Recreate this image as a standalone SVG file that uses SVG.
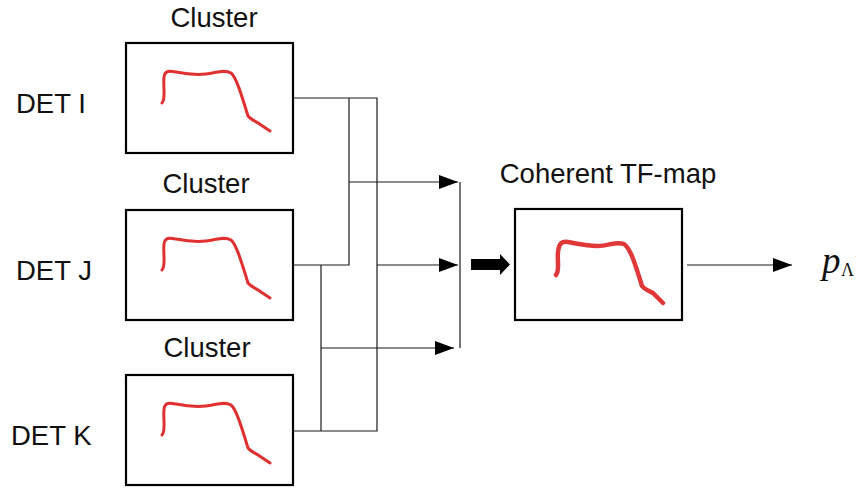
<svg xmlns="http://www.w3.org/2000/svg" width="860" height="489" viewBox="0 0 860 489">
<defs>
<style>
.box{fill:#fff;stroke:#000;stroke-width:2.2}
.lbl{font-family:"Liberation Sans",Arial,sans-serif;font-size:27.5px;fill:#111}
.curve{fill:none;stroke:#e03030;stroke-width:3;stroke-linecap:round;stroke-linejoin:round}
.curveBig{fill:none;stroke:#e03838;stroke-width:4.5;stroke-linecap:round;stroke-linejoin:round}
.wire{fill:none;stroke:#1a1a1a;stroke-width:1.2}
</style>
<marker id="ah" markerUnits="userSpaceOnUse" markerWidth="19" markerHeight="14" refX="19" refY="7" orient="auto">
<path d="M0,0 L19,7 L0,14 Z" fill="#000"/>
</marker>
<path id="sig" d="M36,60 C40,56 37,45 38,34 C39,27 44,28 50,29 C60,31 70,32 80,31 C90,30 98,26 105,30 C110,34 115,50 122,73 C125,77 130,78 135,82 L144,88"/>
</defs>
<rect width="860" height="489" fill="#fff"/>

<g id="nodeI">
<text class="lbl" x="214" y="27" text-anchor="middle">Cluster</text>
<rect class="box" x="126" y="43" width="167" height="110"/>
<use href="#sig" class="curve" x="126" y="43"/>
<text class="lbl" x="16" y="113">DET I</text>
</g>

<g id="nodeJ">
<text class="lbl" x="206" y="193" text-anchor="middle">Cluster</text>
<rect class="box" x="126" y="210" width="167" height="110"/>
<use href="#sig" class="curve" x="126" y="210"/>
<text class="lbl" x="16" y="280">DET J</text>
</g>

<g id="nodeK">
<text class="lbl" x="207" y="357" text-anchor="middle">Cluster</text>
<rect class="box" x="126" y="375" width="167" height="110"/>
<use href="#sig" class="curve" x="126" y="375"/>
<text class="lbl" x="11" y="445">DET K</text>
</g>

<g id="nodeMap">
<text class="lbl" x="608" y="183" text-anchor="middle">Coherent TF-map</text>
<rect class="box" x="515" y="209" width="167" height="111"/>
<path class="curveBig" d="M556,275 C560,270 557,262 558,252 C559,243 562,241 568,242 C578,244 588,246 598,246 C608,246 616,241 624,244 C630,248 634,260 642,286 C645,290 648,290 653,293 L663,303"/>
</g>

<g id="nodeOut">
<text x="822" y="273" font-family="'Liberation Serif','Times New Roman',serif" font-style="italic" font-size="37" fill="#111">p</text>
<text x="841" y="276" font-family="'Liberation Serif','Times New Roman',serif" font-size="18" fill="#111">Λ</text>
</g>

<g id="connectors">
<path class="wire" d="M293,98 H377 V431 H293"/>
<path class="wire" d="M349,98 V265 H293"/>
<path class="wire" d="M321,265 V431"/>
<path class="wire" d="M460,182 V348"/>
<path class="wire" d="M349,182 H458" marker-end="url(#ah)"/>
<path class="wire" d="M377,265 H458" marker-end="url(#ah)"/>
<path class="wire" d="M321,348 H454" marker-end="url(#ah)"/>
<polygon points="471,259 500,259 500,254 510,264.5 500,275 500,270 471,270" fill="#000"/>
<path class="wire" d="M687,265 H792" marker-end="url(#ah)"/>
</g>
</svg>
